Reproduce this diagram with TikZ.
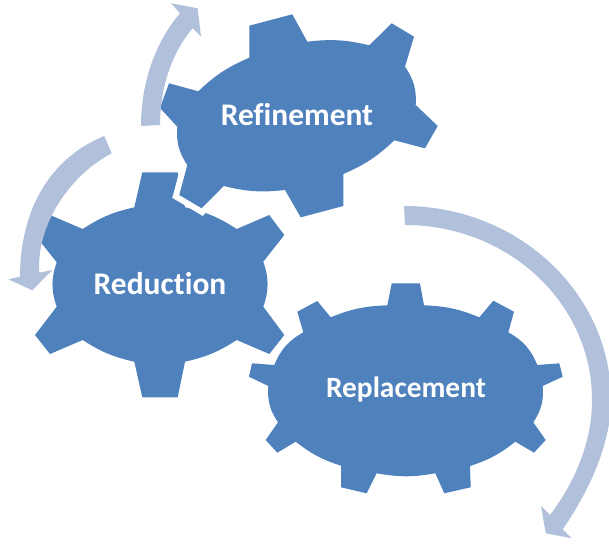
\documentclass[tikz,border=0pt]{standalone}
\usepackage{fontspec}
\setmainfont{Carlito}[Ligatures=NoCommon,Contextuals=NoAlternate]
\definecolor{MyBlue}{HTML}{4F81BD}
\definecolor{MyPale}{HTML}{B1C1DC}
\begin{document}
\begin{tikzpicture}[x=0.025cm, y=-0.025cm,
	gear/.style={fill=MyBlue, preaction={draw=white, line width=0.3cm}},
	turn/.style={fill=MyPale},
	rim/.style={bend left=10},
	flank/.style={bend left=19},
	every node/.style={text=white, font=\bfseries}]
	
	\useasboundingbox (0,0) rectangle (609,544);
	
	% Replacement
	\fill[MyBlue] (391.7,283.3) -- (420,283.3) -- (424,305.3)
		to[rim] (479.3,317.3) -- (493.3,300.7) -- (514,311.7) -- (508.3,332.3)
		to[flank] (537.3,365) -- (559.3,363.3) -- (562.7,376.7) -- (542.7,386)
		to[flank] (533.3,422.3) -- (545.7,440) -- (534,452.7) -- (515.3,441.7)
		to[rim] (470,466) -- (470.7,487.3) -- (444.3,493.3) -- (435.3,473.3)
		to[rim] (376.7,473.3) -- (366.7,493.3) -- (341,487.3) -- (341,465.7)
		to[rim] (295.7,441.7) -- (277.3,452.7) -- (265.7,440) -- (278,422.3)
		to[flank] (268.3,386) -- (249,376.7) -- (252,363.3) -- (274.3,365)
		to[flank] (303.3,332.3) -- (297.3,311.7) -- (317.3,301) -- (330.7,317.3)
		to[rim] (387.3,305.3) -- cycle;
	
	% Reduction
	\path[gear] (142.3,172.3) -- (177.7,172.3) -- (185,207.3)
		to[rim] (236.7,229) -- (269.3,215) -- (284.3,235) -- (263.3,261.7)
		to[flank] (263.3,306.7) -- (284.3,335) -- (269.3,354) -- (236.7,340)
		to[rim] (185,361.7) -- (177.7,397.3) -- (142.3,397.3) -- (134.3,361.7)
		to[rim] (82.7,340) -- (50,354) -- (35,335) -- (56.7,306.7)
		to[flank] (56.7,262.3) -- (35,235) -- (50,215) -- (82.7,229)
		to[rim] (134.3,207.3) -- cycle;
	
	% Refinement
	\path[gear] (249.3,25.7) -- (292.3,14.3) -- (307.3,41.7)
		to[rim] (369.3,45.3) -- (391.7,23.3) -- (414,36.7) -- (405,66.7)
		to[flank] (415.7,105) -- (437.7,126) -- (425,148.3) -- (394.3,140.3)
		to[rim] (343.3,174) -- (343.3,206) -- (300.7,217.3) -- (285,190)
		to[rim] (223.7,186) -- (201.7,208.3) -- (179.3,195) -- (187.3,165)
		to[flank] (177.3,126.7) -- (160,108) -- (169,83.3) -- (198.3,91.3)
		to[rim] (249.3,57.7) -- cycle;
	
	% round arrows
	\fill[turn] (141,126) .. controls (141,80) and (157,40) .. (180,13.3)
		-- (171,3.3) -- (197.7,8.3) -- (201,36.7) -- (192.7,28.3)
		.. controls (172,52) and (160,88) .. (160,125) -- cycle;
	
	\fill[turn] (104.3,136) .. controls (50,158) and (20,210) .. (20,276.7)
		-- (8.3,279.3) -- (32.3,290.3) -- (52.3,270) -- (39.3,272.7)
		.. controls (36,225) and (70,175) .. (111.7,153.3) -- cycle;
	
	\fill[turn] (404,206) .. controls (518,206) and (611,293) .. (611,400)
		.. controls (611,448) and (585,497) .. (562.7,529.3)
		-- (571.7,538.3) -- (545.7,533.3) -- (541,506) -- (550,515)
		.. controls (575,482) and (592,442) .. (592,400)
		.. controls (592,303) and (508,225) .. (405,225) -- cycle;
	
	\node[font=\fontsize{22.4}{26}\selectfont\bfseries] (refinement) at (297,115) {Refinement};
	\node[font=\fontsize{22.4}{26}\selectfont\bfseries] (reduction) at (160,284) {Reduction};
	\node[font=\fontsize{20.9}{24}\selectfont\bfseries] (replacement) at (406,389) {Replacement};
\end{tikzpicture}
\end{document}
